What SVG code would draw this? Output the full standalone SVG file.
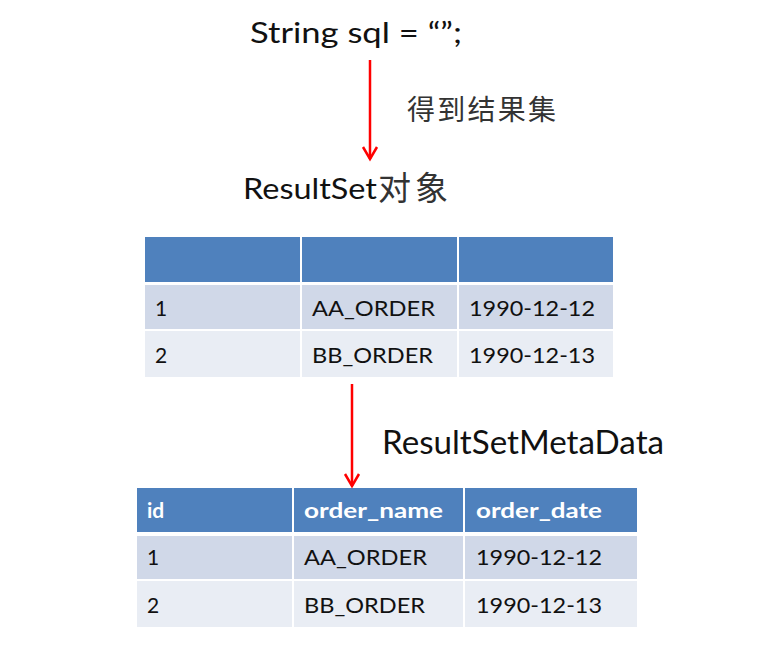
<svg xmlns="http://www.w3.org/2000/svg" width="781" height="647" viewBox="0 0 781 647">
<style>
.t{font-family:Lato,"Noto Sans CJK SC",sans-serif;fill:#111}
.cell{font-family:Lato,sans-serif;font-size:21px;fill:#111}
.hd{font-family:Lato,sans-serif;font-size:21px;font-weight:bold;fill:#fff}
.h{fill:#4F81BD}.r1{fill:#D0D8E8}.r2{fill:#E9EDF4}
.arr{stroke:#FF0000;stroke-width:2.5;fill:none}
</style>
<rect width="781" height="647" fill="#fff"/>
<g id="sql">
<text class="t" x="250" y="43" font-size="29" textLength="212" lengthAdjust="spacingAndGlyphs">String sql = “”;</text>
</g>
<g id="label-result">
<text class="t" x="407" y="120" font-size="28" style="fill:#333" textLength="149" lengthAdjust="spacing">得到结果集</text>
</g>
<g id="resultset">
<text class="t" x="243" y="199" font-size="29"><tspan textLength="134" lengthAdjust="spacingAndGlyphs">ResultSet</tspan></text>
<text class="t" x="378" y="200" font-size="33" style="fill:#333" letter-spacing="4">对象</text>
</g>
<g id="table1">
<rect class="h" x="145" y="237" width="155" height="45"/>
<rect class="h" x="302" y="237" width="155" height="45"/>
<rect class="h" x="459" y="237" width="154" height="45"/>
<rect class="r1" x="145" y="285" width="155" height="44"/>
<rect class="r1" x="302" y="285" width="155" height="44"/>
<rect class="r1" x="459" y="285" width="154" height="44"/>
<rect class="r2" x="145" y="331" width="155" height="46"/>
<rect class="r2" x="302" y="331" width="155" height="46"/>
<rect class="r2" x="459" y="331" width="154" height="46"/>
<text class="cell" x="155" y="316">1</text>
<text class="cell" x="312" y="316" textLength="123" lengthAdjust="spacingAndGlyphs">AA_ORDER</text>
<text class="cell" x="469" y="316" textLength="126" lengthAdjust="spacingAndGlyphs">1990-12-12</text>
<text class="cell" x="155" y="363">2</text>
<text class="cell" x="312" y="363" textLength="121" lengthAdjust="spacingAndGlyphs">BB_ORDER</text>
<text class="cell" x="469" y="363" textLength="126" lengthAdjust="spacingAndGlyphs">1990-12-13</text>
</g>
<g id="metadata">
<text class="t" x="382" y="454" font-size="32" textLength="282" lengthAdjust="spacingAndGlyphs">ResultSetMetaData</text>
</g>
<g id="table2">
<rect class="h" x="137" y="488" width="155" height="44"/>
<rect class="h" x="294" y="488" width="169" height="44"/>
<rect class="h" x="465" y="488" width="172" height="44"/>
<rect class="r1" x="137" y="536" width="155" height="43"/>
<rect class="r1" x="294" y="536" width="169" height="43"/>
<rect class="r1" x="465" y="536" width="172" height="43"/>
<rect class="r2" x="137" y="581" width="155" height="46"/>
<rect class="r2" x="294" y="581" width="169" height="46"/>
<rect class="r2" x="465" y="581" width="172" height="46"/>
<text class="hd" x="147" y="518">id</text>
<text class="hd" x="304" y="518" textLength="139" lengthAdjust="spacingAndGlyphs">order_name</text>
<text class="hd" x="476" y="518" textLength="126" lengthAdjust="spacingAndGlyphs">order_date</text>
<text class="cell" x="147" y="565">1</text>
<text class="cell" x="304" y="565" textLength="123" lengthAdjust="spacingAndGlyphs">AA_ORDER</text>
<text class="cell" x="476" y="565" textLength="126" lengthAdjust="spacingAndGlyphs">1990-12-12</text>
<text class="cell" x="147" y="613">2</text>
<text class="cell" x="304" y="613" textLength="121" lengthAdjust="spacingAndGlyphs">BB_ORDER</text>
<text class="cell" x="476" y="613" textLength="126" lengthAdjust="spacingAndGlyphs">1990-12-13</text>
</g>
<g id="connectors">
<path class="arr" d="M370 60 V159"/>
<path class="arr" d="M363 147 L370 159 L377 147"/>
<path class="arr" d="M352 384 V486"/>
<path class="arr" d="M345 474 L352 486 L359 474"/>
</g>
</svg>
